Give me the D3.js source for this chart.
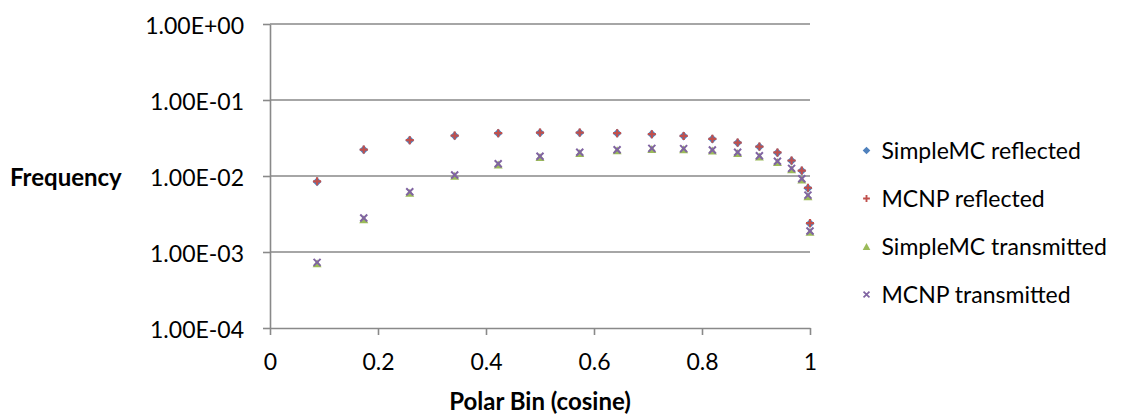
<!DOCTYPE html>
<html>
<head>
<meta charset="utf-8">
<script src="https://cdn.jsdelivr.net/npm/d3@7"></script>
<style>
  body { margin: 0; background: #fff; }
  text { font-family: Lato, "Open Sans", sans-serif; fill: #000; }
</style>
</head>
<body>
<div id="chart"></div>
<script>
const polarBins = [0.0872, 0.1736, 0.2588, 0.3420, 0.4226, 0.5000, 0.5736, 0.6428, 0.7071,
                   0.7660, 0.8192, 0.8660, 0.9063, 0.9397, 0.9659, 0.9848, 0.9962, 1.0000];

const simpleMCReflected = [8.4e-3, 2.22e-2, 2.95e-2, 3.39e-2, 3.65e-2, 3.72e-2, 3.72e-2, 3.65e-2, 3.54e-2,
                           3.36e-2, 3.07e-2, 2.74e-2, 2.43e-2, 2.03e-2, 1.59e-2, 1.17e-2, 6.9e-3, 2.38e-3];
const mcnpReflected = [8.5e-3, 2.23e-2, 2.96e-2, 3.40e-2, 3.66e-2, 3.73e-2, 3.73e-2, 3.66e-2, 3.55e-2,
                       3.37e-2, 3.08e-2, 2.75e-2, 2.44e-2, 2.04e-2, 1.60e-2, 1.18e-2, 7.0e-3, 2.40e-3];
const simpleMCTransmitted = [7.1e-4, 2.7e-3, 6.0e-3, 1.01e-2, 1.42e-2, 1.78e-2, 2.01e-2, 2.18e-2, 2.27e-2,
                             2.25e-2, 2.16e-2, 2.01e-2, 1.81e-2, 1.53e-2, 1.23e-2, 9.0e-3, 5.4e-3, 1.85e-3];
const mcnpTransmitted = [7.3e-4, 2.8e-3, 6.2e-3, 1.03e-2, 1.45e-2, 1.82e-2, 2.05e-2, 2.22e-2, 2.31e-2,
                         2.29e-2, 2.20e-2, 2.05e-2, 1.85e-2, 1.56e-2, 1.26e-2, 9.2e-3, 5.6e-3, 1.89e-3];

const seriesNames = ['SimpleMC reflected', 'MCNP reflected', 'SimpleMC transmitted', 'MCNP transmitted'];
const yTicks = [1e0, 1e-1, 1e-2, 1e-3, 1e-4];
const yTickLabels = ['1.00E+00', '1.00E-01', '1.00E-02', '1.00E-03', '1.00E-04'];
const xTicks = [0, 0.2, 0.4, 0.6, 0.8, 1];
const xTickLabels = ['0', '0.2', '0.4', '0.6', '0.8', '1'];

const w = 1127, h = 416;
const plotLeft = 270, plotRight = 810, plotTop = 24, plotBottom = 328;
const gray = '#898989';
const labelSize = '23px';

const series = [
  { name: seriesNames[0], values: simpleMCReflected, color: '#4f81bd', shape: 'diamond' },
  { name: seriesNames[1], values: mcnpReflected, color: '#c0504d', shape: 'plus' },
  { name: seriesNames[2], values: simpleMCTransmitted, color: '#9bbb59', shape: 'triangle' },
  { name: seriesNames[3], values: mcnpTransmitted, color: '#8064a2', shape: 'cross' }
];

const svg = d3.select('#chart')
              .append('svg')
              .attr('width', w)
              .attr('height', h);

svg.append('rect').attr('width', w).attr('height', h).attr('fill', '#fff');

const xScale = d3.scaleLinear().domain([0, 1]).range([plotLeft, plotRight]);
const yScale = d3.scaleLog().domain([1e-4, 1]).range([plotBottom, plotTop]);

// gridlines
svg.append('g')
   .selectAll('line')
   .data(yTicks.slice(0, 4))
   .enter()
   .append('line')
   .attr('x1', plotLeft)
   .attr('x2', plotRight)
   .attr('y1', d => yScale(d))
   .attr('y2', d => yScale(d))
   .attr('stroke', gray)
   .attr('stroke-width', 1.6);

const yAxis = d3.axisLeft(yScale)
                .tickValues(yTicks)
                .tickFormat((d, i) => yTickLabels[i])
                .tickSize(7)
                .tickSizeOuter(0)
                .tickPadding(19);

const xAxis = d3.axisBottom(xScale)
                .tickValues(xTicks)
                .tickFormat((d, i) => xTickLabels[i])
                .tickSize(7)
                .tickSizeOuter(0);

const yG = svg.append('g')
   .attr('transform', `translate(${plotLeft}, 0)`)
   .call(yAxis);

const xG = svg.append('g')
   .attr('transform', `translate(0, ${plotBottom})`)
   .call(xAxis);

[yG, xG].forEach(g => {
  g.select('.domain').attr('stroke', gray).attr('stroke-width', 1.6);
  g.selectAll('.tick line').attr('stroke', gray).attr('stroke-width', 1.6);
  g.selectAll('.tick text')
   .attr('font-size', labelSize)
   .style('font-family', 'Lato, sans-serif')
   .attr('fill', '#000');
});
yG.selectAll('.tick text').attr('dy', '0.4em');
xG.selectAll('.tick text').attr('y', 42).attr('dy', null);

svg.append('text')
   .attr('x', 10)
   .attr('y', 186)
   .attr('font-size', '24px')
   .attr('font-weight', 'bold')
   .text('Frequency');

svg.append('text')
   .attr('x', (plotLeft + plotRight) / 2)
   .attr('y', 410)
   .attr('text-anchor', 'middle')
   .attr('font-size', '24px')
   .attr('font-weight', 'bold')
   .text('Polar Bin (cosine)');

function drawMarker(sel, shape, color) {
  if (shape === 'diamond') {
    sel.append('path').attr('d', 'M0,-4.5L4.5,0L0,4.5L-4.5,0Z').attr('fill', color);
  } else if (shape === 'plus') {
    sel.append('path').attr('d', 'M-4,0H4M0,-4V4').attr('stroke', color).attr('stroke-width', 2.2);
  } else if (shape === 'triangle') {
    sel.append('path').attr('d', 'M0,-4L4.5,4L-4.5,4Z').attr('fill', color);
  } else {
    sel.append('path').attr('d', 'M-3.5,-3.5L3.5,3.5M-3.5,3.5L3.5,-3.5').attr('stroke', color).attr('stroke-width', 2);
  }
}

const graph = svg.append('g');

series.forEach(s => {
  graph.append('g')
       .selectAll('g')
       .data(s.values)
       .enter()
       .append('g')
       .attr('transform', (d, i) => `translate(${xScale(polarBins[i])}, ${yScale(d)})`)
       .each(function() { drawMarker(d3.select(this), s.shape, s.color); });
});

// legend
const legend = svg.append('g');
series.forEach((s, i) => {
  const row = legend.append('g').attr('transform', `translate(866.5, ${150.5 + i * 48})`);
  drawMarker(row.append('g').attr('transform', 'scale(0.85)'), s.shape, s.color);
  row.append('text')
     .attr('x', 15)
     .attr('y', 8)
     .attr('font-size', labelSize)
     .text(s.name);
});
</script>
</body>
</html>
